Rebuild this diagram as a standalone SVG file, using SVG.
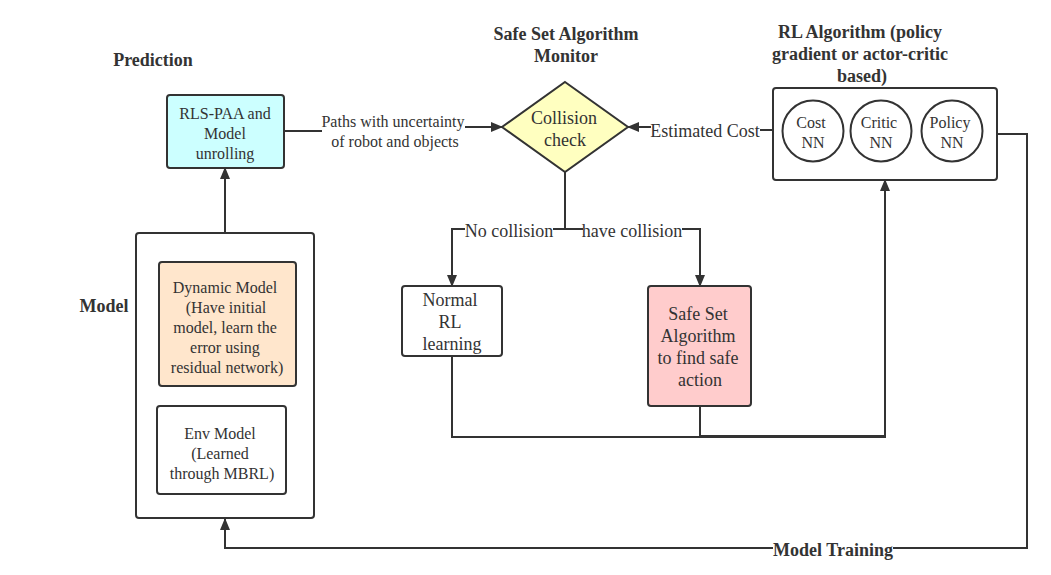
<svg xmlns="http://www.w3.org/2000/svg" width="1051" height="575" viewBox="0 0 1051 575">
<defs>
<marker id="arr" markerWidth="12" markerHeight="10" refX="11" refY="5" orient="auto" markerUnits="userSpaceOnUse">
<path d="M0,0 L12,5 L0,10 Z" fill="#333"/>
</marker>
<style>
text{font-family:"Liberation Serif","Times New Roman",serif;fill:#333;text-anchor:middle;dominant-baseline:central}
.t{font-weight:bold;font-size:18px}
.n16{font-size:16px}
.n18{font-size:18px}
.box{stroke:#333;stroke-width:2}
.c{fill:none;stroke:#333;stroke-width:2}
</style>
</defs>
<rect width="1051" height="575" fill="#fff"/>

<g id="labels">
<text class="t" x="153" y="60">Prediction</text>
<text class="t" x="566" y="34">Safe Set Algorithm</text>
<text class="t" x="566" y="56">Monitor</text>
<text class="t" x="860" y="32">RL Algorithm (policy</text>
<text class="t" x="860" y="54">gradient or actor-critic</text>
<text class="t" x="862" y="76">based)</text>
<text class="t" x="104" y="306">Model</text>
</g>

<g id="connectors">
<path class="c" d="M284,131 L322,131"/>
<path class="c" d="M465,127 L502,127" marker-end="url(#arr)"/>
<text class="n16" x="393" y="121">Paths with uncertainty</text>
<text class="n16" x="395" y="141">of robot and objects</text>
<path class="c" d="M773,130 L760,130"/>
<path class="c" d="M651,127 L628,127" marker-end="url(#arr)"/>
<text class="n18" x="705" y="131">Estimated Cost</text>
<path class="c" d="M225,233 L225,168" marker-end="url(#arr)"/>
<path class="c" d="M565,172 L565,229 L553,229"/>
<path class="c" d="M465,229 L452,229 L452,286" marker-end="url(#arr)"/>
<text class="n18" x="509" y="231">No collision</text>
<path class="c" d="M565,229 L583,229"/>
<path class="c" d="M682,229 L700,229 L700,286" marker-end="url(#arr)"/>
<text class="n18" x="632" y="231">have collision</text>
<path class="c" d="M452,356 L452,437 L885,437 L885,180" marker-end="url(#arr)"/>
<path class="c" d="M700,406 L700,436 L885,436"/>
<path class="c" d="M997,134 L1027,134 L1027,548 L893,548"/>
<path class="c" d="M773,548 L225,548 L225,519" marker-end="url(#arr)"/>
<text class="t" x="833" y="550">Model Training</text>
</g>

<g id="rls">
<rect class="box" x="167" y="95" width="117" height="73" rx="3" fill="#ccffff"/>
<text class="n16" x="225" y="113">RLS-PAA and</text>
<text class="n16" x="225" y="133">Model</text>
<text class="n16" x="225" y="153">unrolling</text>
</g>

<g id="collision">
<polygon class="box" points="565,82 628,127 565,172 502,127" fill="#ffffc0"/>
<text class="n18" x="564" y="118">Collision</text>
<text class="n18" x="565" y="140">check</text>
</g>

<g id="rl">
<rect class="box" x="773" y="88" width="224" height="92" rx="3" fill="#fff"/>
</g>
<g id="cost">
<circle class="box" cx="813" cy="131" r="30.5" fill="#fff"/>
<text class="n16" x="811" y="122">Cost</text>
<text class="n16" x="813" y="142">NN</text>
</g>
<g id="critic">
<circle class="box" cx="881" cy="131" r="30.5" fill="#fff"/>
<text class="n16" x="879" y="122">Critic</text>
<text class="n16" x="881" y="142">NN</text>
</g>
<g id="policy">
<circle class="box" cx="952" cy="131" r="30.5" fill="#fff"/>
<text class="n16" x="950" y="122">Policy</text>
<text class="n16" x="952" y="142">NN</text>
</g>

<g id="model">
<rect class="box" x="136" y="233" width="178" height="285" rx="3" fill="#fff"/>
</g>
<g id="dynamic">
<rect class="box" x="159" y="262" width="137" height="124" rx="3" fill="#ffe6cc"/>
<text class="n16" x="225" y="287">Dynamic Model</text>
<text class="n16" x="226" y="307">(Have initial</text>
<text class="n16" x="225" y="327">model, learn the</text>
<text class="n16" x="225" y="347">error using</text>
<text class="n16" x="227" y="367">residual network)</text>
</g>
<g id="env">
<rect class="box" x="157" y="406" width="129" height="88" rx="3" fill="#fff"/>
<text class="n16" x="220" y="433">Env Model</text>
<text class="n16" x="220" y="453">(Learned</text>
<text class="n16" x="222" y="473">through MBRL)</text>
</g>

<g id="normal">
<rect class="box" x="402" y="286" width="100" height="70" rx="3" fill="#fff"/>
<text class="n18" x="450" y="300">Normal</text>
<text class="n18" x="450" y="322">RL</text>
<text class="n18" x="452" y="344">learning</text>
</g>
<g id="safe">
<rect class="box" x="648" y="286" width="103" height="120" rx="3" fill="#ffcccc"/>
<text class="n18" x="698" y="314">Safe Set</text>
<text class="n18" x="698" y="336">Algorithm</text>
<text class="n18" x="698" y="358">to find safe</text>
<text class="n18" x="700" y="380">action</text>
</g>
</svg>
